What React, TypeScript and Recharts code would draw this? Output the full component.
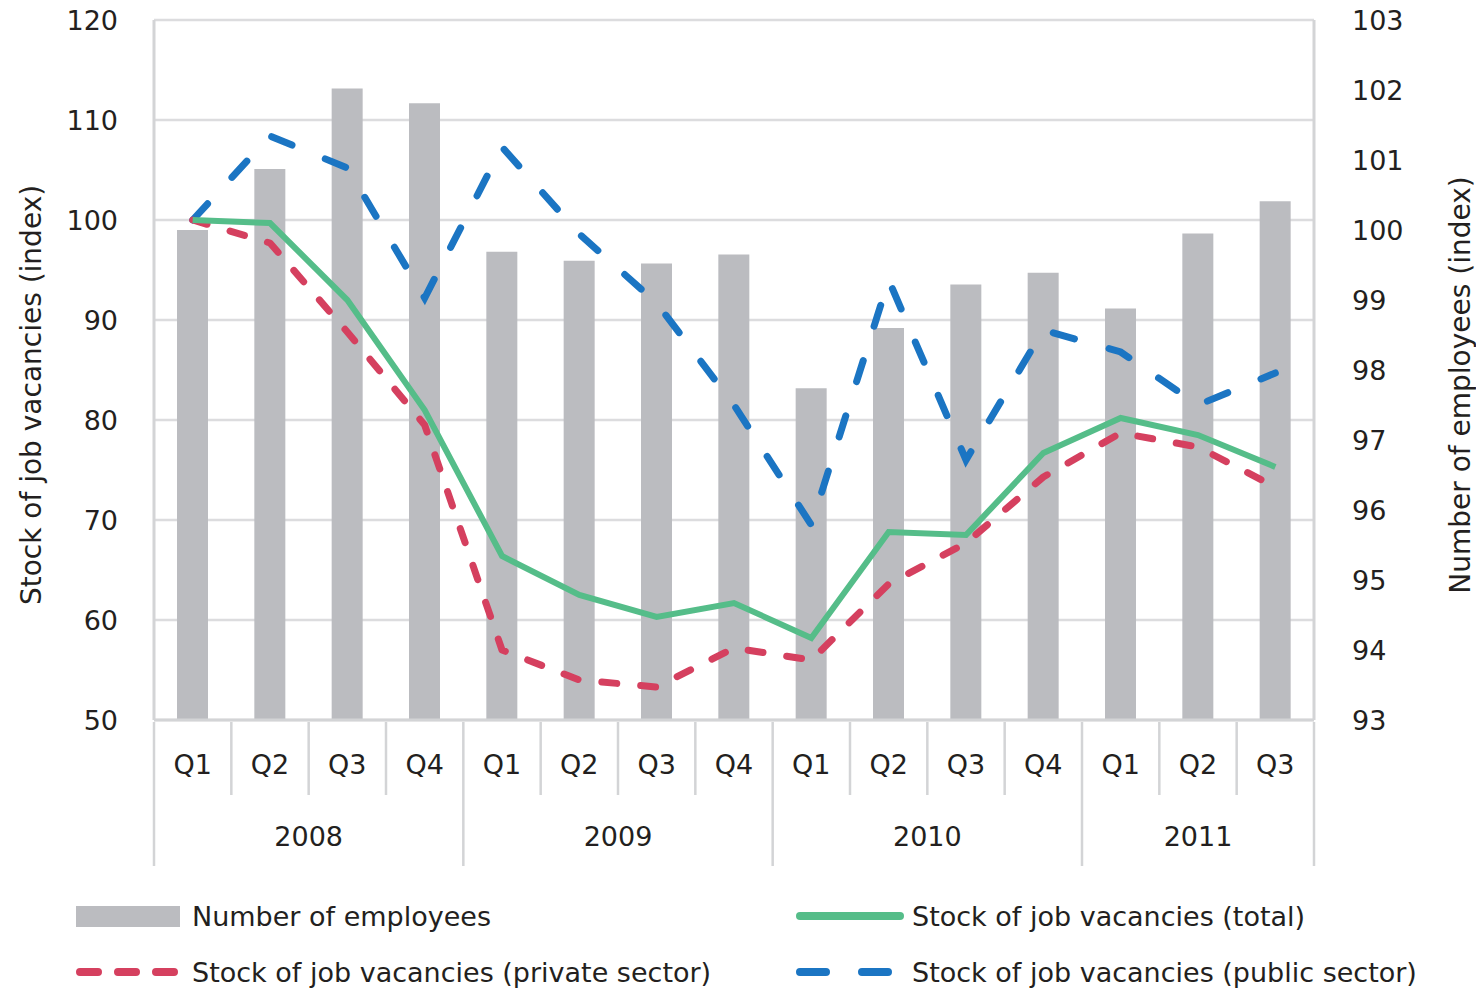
import { ComposedChart, Bar, Line, XAxis, YAxis, CartesianGrid } from 'recharts'

const QUARTERS = ['Q1', 'Q2', 'Q3', 'Q4', 'Q1', 'Q2', 'Q3', 'Q4', 'Q1', 'Q2', 'Q3', 'Q4', 'Q1', 'Q2', 'Q3']
const YEARS = ['2008', '2008', '2008', '2008', '2009', '2009', '2009', '2009', '2010', '2010', '2010', '2010', '2011', '2011', '2011']

const EMPLOYEES = [100.0, 100.87, 102.02, 101.81, 99.69, 99.56, 99.52, 99.65, 97.74, 98.6, 99.22, 99.39, 98.88, 99.95, 100.41]
const VAC_TOTAL = [100.0, 99.7, 92.0, 81.0, 66.4, 62.5, 60.3, 61.7, 58.2, 68.8, 68.5, 76.7, 80.2, 78.5, 75.3]
const VAC_PRIVATE = [100.0, 97.7, 88.8, 79.5, 57.0, 54.0, 53.3, 57.2, 56.0, 63.6, 67.7, 74.3, 78.7, 77.3, 73.3]
const VAC_PUBLIC = [100.0, 108.4, 105.2, 92.2, 107.3, 98.6, 91.7, 81.5, 69.5, 94.0, 76.0, 89.0, 86.8, 81.5, 84.7]

const LEFT_TICKS = [50, 60, 70, 80, 90, 100, 110, 120]
const RIGHT_TICKS = [93, 94, 95, 96, 97, 98, 99, 100, 101, 102, 103]

const NAMES = {
  employees: 'Number of employees',
  total: 'Stock of job vacancies (total)',
  priv: 'Stock of job vacancies (private sector)',
  pub: 'Stock of job vacancies (public sector)',
}

const GREY = '#bbbcc0'
const GREEN = '#55bd89'
const RED = '#d5405f'
const BLUE = '#1b75c3'
const LINE_GREY = '#d3d4d6'
const TEXT = '#231f20'
const FONT = '"DejaVu Sans", Verdana, sans-serif'

const data = QUARTERS.map((q, i) => ({
  q,
  year: YEARS[i],
  employees: EMPLOYEES[i],
  total: VAC_TOTAL[i],
  priv: VAC_PRIVATE[i],
  pub: VAC_PUBLIC[i],
}))

function QuarterTick(props: any) {
  const { x, y, payload, index } = props
  const half = payload && payload.offset ? payload.offset : 38.7
  const yr = YEARS[index]
  const first = index === 0 || YEARS[index - 1] !== yr
  const last = index === YEARS.length - 1
  const members = YEARS.map((v, i) => (v === yr ? i : -1)).filter((i) => i >= 0)
  const mid = (members[0] + members[members.length - 1]) / 2
  const showYear = index === Math.floor(mid)
  const yearX = x + (mid - index) * 2 * half
  return (
    <g>
      <line x1={x - half} x2={x - half} y1={y + 2} y2={first ? y + 146 : y + 75} stroke={LINE_GREY} strokeWidth={2.5} />
      {last && <line x1={x + half} x2={x + half} y1={y + 2} y2={y + 146} stroke={LINE_GREY} strokeWidth={2.5} />}
      <text x={x} y={y + 44} textAnchor="middle" dominantBaseline="central" fontSize={27} fill={TEXT} fontFamily={FONT}>
        {payload.value}
      </text>
      {showYear && (
        <text x={yearX} y={y + 116} textAnchor="middle" dominantBaseline="central" fontSize={27} fill={TEXT} fontFamily={FONT}>
          {yr}
        </text>
      )}
    </g>
  )
}

function SideLabel({ viewBox, value, dx, dy }: any) {
  const cx = viewBox.x + dx
  const cy = viewBox.y + viewBox.height / 2 + dy
  return (
    <text
      x={cx}
      y={cy}
      transform={`rotate(-90 ${cx} ${cy})`}
      textAnchor="middle"
      dominantBaseline="central"
      fontSize={28}
      fill={TEXT}
      fontFamily={FONT}
    >
      {value}
    </text>
  )
}

function LegendRow({ x, y, kind, label }: { x: number; y: number; kind: string; label: string }) {
  let icon = null
  if (kind === 'bar') icon = <rect x={x} y={y - 10} width={104} height={21} fill={GREY} />
  if (kind === 'total') icon = <line x1={x + 4} x2={x + 104} y1={y} y2={y} stroke={GREEN} strokeWidth={8} strokeLinecap="round" />
  if (kind === 'priv')
    icon = <line x1={x + 4} x2={x + 98} y1={y} y2={y} stroke={RED} strokeWidth={8} strokeDasharray="18 20" strokeLinecap="round" />
  if (kind === 'pub')
    icon = <line x1={x + 4} x2={x + 92} y1={y} y2={y} stroke={BLUE} strokeWidth={8} strokeDasharray="26 36" strokeLinecap="round" />
  return (
    <g>
      {icon}
      <text x={x + 116} y={y} dominantBaseline="central" fontSize={27} fill={TEXT} fontFamily={FONT}>
        {label}
      </text>
    </g>
  )
}

export default function App() {
  return (
    <div style={{ position: 'relative', width: 1476, height: 989, background: '#fff' }}>
      <style>{'body{margin:0}'}</style>
      <ComposedChart
        width={1476}
        height={989}
        data={data}
        margin={{ top: 20, right: 0, left: 0, bottom: 109 }}
        barSize={31}
      >
        <CartesianGrid yAxisId="left" vertical={false} stroke="#dcdcde" strokeWidth={2.5} />
        <XAxis
          dataKey="q"
          interval={0}
          height={160}
          tickSize={0}
          tickMargin={0}
          tickLine={false}
          axisLine={{ stroke: LINE_GREY, strokeWidth: 3 }}
          tick={<QuarterTick />}
        />
        <YAxis
          yAxisId="left"
          orientation="left"
          width={154}
          domain={[50, 120]}
          ticks={LEFT_TICKS}
          interval={0}
          tickSize={0}
          tickMargin={36}
          tickLine={false}
          axisLine={{ stroke: LINE_GREY, strokeWidth: 3 }}
          tick={{ fontSize: 27, fill: TEXT, fontFamily: FONT }}
          label={<SideLabel value="Stock of job vacancies (index)" dx={31} dy={25} />}
        />
        <YAxis
          yAxisId="right"
          orientation="right"
          width={162}
          domain={[93, 103]}
          ticks={RIGHT_TICKS}
          interval={0}
          tickSize={0}
          tickMargin={38}
          tickLine={false}
          axisLine={{ stroke: LINE_GREY, strokeWidth: 3 }}
          tick={{ fontSize: 27, fill: TEXT, fontFamily: FONT, textAnchor: 'start' }}
          label={<SideLabel value="Number of employees (index)" dx={146} dy={15} />}
        />
        <Bar yAxisId="right" dataKey="employees" name={NAMES.employees} fill={GREY} isAnimationActive={false} />
        <Line
          yAxisId="left"
          type="linear"
          dataKey="pub"
          name={NAMES.pub}
          stroke={BLUE}
          strokeWidth={7}
          strokeDasharray="22 36"
          strokeLinecap="round"
          dot={false}
          activeDot={false}
          isAnimationActive={false}
        />
        <Line
          yAxisId="left"
          type="linear"
          dataKey="priv"
          name={NAMES.priv}
          stroke={RED}
          strokeWidth={7}
          strokeDasharray="15 24"
          strokeLinecap="round"
          strokeLinejoin="round"
          dot={false}
          activeDot={false}
          isAnimationActive={false}
        />
        <Line
          yAxisId="left"
          type="linear"
          dataKey="total"
          name={NAMES.total}
          stroke={GREEN}
          strokeWidth={6}
          dot={false}
          activeDot={false}
          isAnimationActive={false}
        />
      </ComposedChart>
      <svg width={1476} height={110} style={{ position: 'absolute', left: 0, top: 879 }}>
        <LegendRow x={76} y={37} kind="bar" label={NAMES.employees} />
        <LegendRow x={796} y={37} kind="total" label={NAMES.total} />
        <LegendRow x={76} y={93} kind="priv" label={NAMES.priv} />
        <LegendRow x={796} y={93} kind="pub" label={NAMES.pub} />
      </svg>
    </div>
  )
}
